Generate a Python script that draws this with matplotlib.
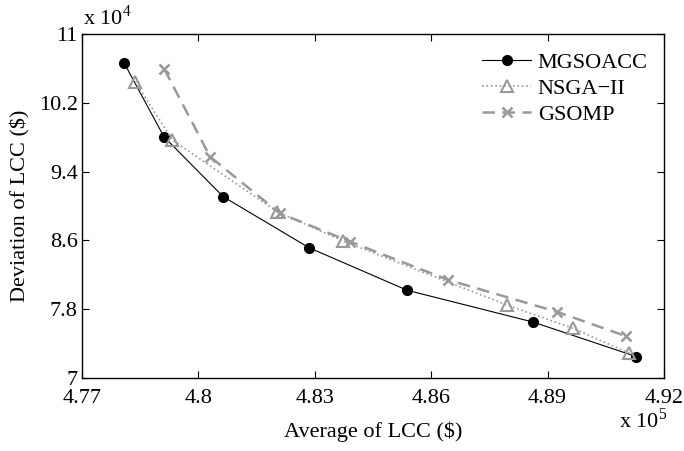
import matplotlib
matplotlib.use("Agg")
import matplotlib.pyplot as plt

plt.rcParams['font.family'] = ['Liberation Serif', 'DejaVu Serif']
plt.rcParams['mathtext.fontset'] = 'custom'
plt.rcParams['mathtext.rm'] = 'Liberation Serif'

# average LCC (x 1e5 $) and deviation of LCC (x 1e4 $) for each Pareto front
mgsoacc_avg = [4.7809, 4.7911, 4.8064, 4.8285, 4.8538, 4.8862, 4.9129]
mgsoacc_dev = [10.66, 9.806, 9.108, 8.515, 8.020, 7.651, 7.248]

nsga_avg = [4.7837, 4.7933, 4.8203, 4.8373, 4.8795, 4.8965, 4.9111]
nsga_dev = [10.445, 9.767, 8.934, 8.593, 7.849, 7.578, 7.287]

gsomp_avg = [4.7912, 4.8030, 4.8210, 4.8391, 4.8644, 4.8923, 4.9101]
gsomp_dev = [10.593, 9.573, 8.915, 8.585, 8.140, 7.771, 7.488]

x_ticks = [4.77, 4.80, 4.83, 4.86, 4.89, 4.92]
x_tick_labels = ['4.77', '4.8', '4.83', '4.86', '4.89', '4.92']
y_ticks = [7, 7.8, 8.6, 9.4, 10.2, 11]
y_tick_labels = ['7', '7.8', '8.6', '9.4', '10.2', '11']

gray = '#999999'

fig = plt.figure(figsize=(6.84, 4.51), dpi=100)
ax = fig.add_axes([0.1199, 0.1619, 0.8509, 0.7627])

ax.plot(mgsoacc_avg, mgsoacc_dev, color='black', lw=0.8, marker='o',
        ms=7, label='MGSOACC')
ax.plot(nsga_avg, nsga_dev, color=gray, lw=1.2, ls=':', marker='^',
        ms=8, mfc='none', mew=1.5, label='NSGA\u2212II')
ax.plot(gsomp_avg, gsomp_dev, color=gray, lw=1.8, ls=(0, (5, 3)), marker='x',
        ms=7, mew=1.8, label='GSOMP')

ax.set_xlim(4.77, 4.92)
ax.set_ylim(7, 11)
ax.set_xticks(x_ticks)
ax.set_xticklabels(x_tick_labels)
ax.set_yticks(y_ticks)
ax.set_yticklabels(y_tick_labels)
ax.tick_params(direction='in', length=5, width=0.8, labelsize=16,
               top=True, right=True)
ax.tick_params(axis='x', pad=8)
ax.tick_params(axis='y', pad=3)
for sp in ax.spines.values():
    sp.set_linewidth(1.0)

ax.set_xlabel('Average of LCC ($)', fontsize=16, labelpad=10)
ax.set_ylabel('Deviation of LCC ($)', fontsize=16, labelpad=6)

fig.text(0.121, 0.935, r'x 10$^4$', fontsize=16, ha='left', va='bottom')
fig.text(0.905, 0.04, r'x 10$^5$', fontsize=16, ha='left', va='bottom')

leg = ax.legend(loc='upper right', frameon=False, fontsize=16,
                handlelength=2.2, handletextpad=0.3, labelspacing=0.25,
                borderaxespad=0.2, bbox_to_anchor=(0.995, 0.985))

fig.savefig('out.png', dpi=100)
